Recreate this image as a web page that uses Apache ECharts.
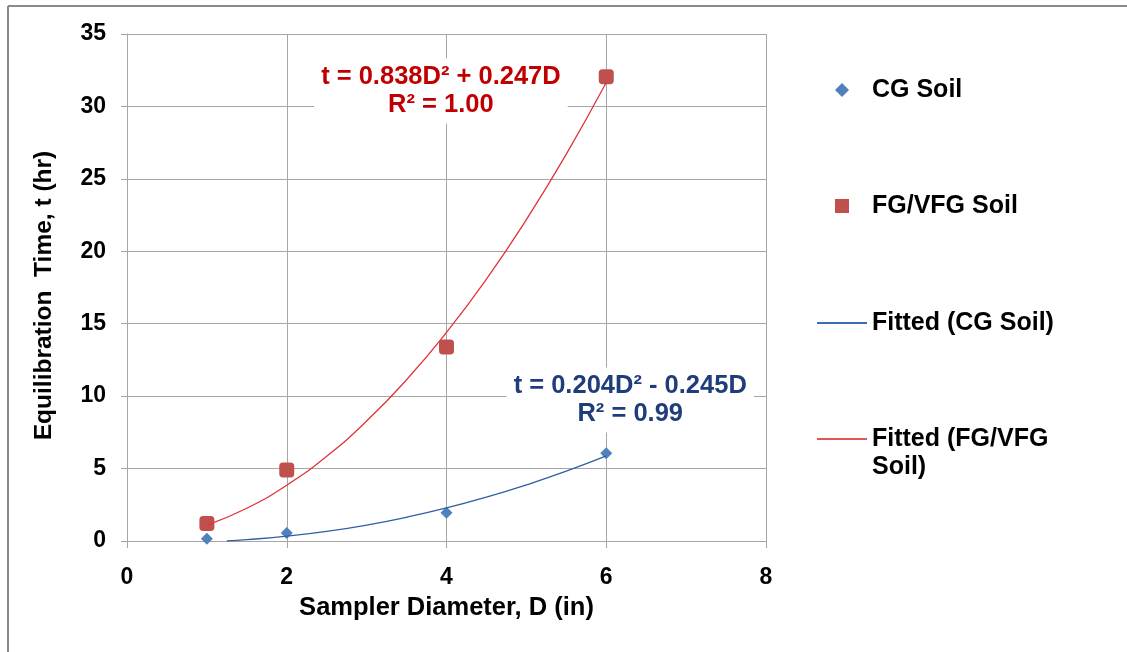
<!DOCTYPE html>
<html>
<head>
<meta charset="utf-8">
<script src="https://cdn.jsdelivr.net/npm/echarts@6/dist/echarts.min.js"></script>
<style>
html,body{margin:0;padding:0;background:#fff;}
#chart{width:1127px;height:652px;}
</style>
</head>
<body>
<div id="chart"></div>
<script>
// ---- data ----
const diameters = [1, 2, 4, 6];
const cgSoil = [0.15, 0.55, 1.95, 6.05];
const fgSoil = [1.2, 4.9, 13.4, 32.05];

// fitted curves
const fitDiamCG = [1.25, 1.5, 2, 2.5, 3, 3.5, 4, 4.5, 5, 5.5, 6];
const fitCG = [0.0, 0.09, 0.33, 0.66, 1.1, 1.64, 2.28, 3.03, 3.88, 4.82, 5.87];
const fitDiamFG = [1, 1.5, 2, 2.5, 3, 3.5, 4, 4.5, 5, 5.5, 6];
const fitFG = [1.1, 2.26, 3.85, 5.85, 8.28, 11.13, 14.4, 18.08, 22.19, 26.71, 31.65];

const xTicks = [0, 2, 4, 6, 8];
const yTicks = [0, 5, 10, 15, 20, 25, 30, 35];

const seriesNames = ['CG Soil', 'FG/VFG Soil', 'Fitted (CG Soil)', 'Fitted (FG/VFG Soil)'];
const eqFG = ['t = 0.838D² + 0.247D', 'R² = 1.00'];
const eqCG = ['t = 0.204D² - 0.245D', 'R² = 0.99'];

const FONT = "'Liberation Sans', Arial, sans-serif";
const GRID_C = '#a6a6a6';

function pairs(xs, ys) { return xs.map((x, i) => [x, ys[i]]); }

const chart = echarts.init(document.getElementById('chart'), null, {renderer: 'canvas'});

const legendText = {color: '#000', fontSize: 25, fontWeight: 'bold', fontFamily: FONT, lineHeight: 28};

chart.setOption({
  animation: false,
  backgroundColor: '#fff',
  grid: {left: 127, top: 34, right: 361, bottom: 111, containLabel: false},
  xAxis: {
    type: 'value', min: xTicks[0], max: xTicks[xTicks.length - 1], interval: 2,
    name: 'Sampler Diameter, D (in)', nameLocation: 'middle', nameGap: 54,
    nameTextStyle: {color: '#000', fontSize: 25.5, fontWeight: 'bold', fontFamily: FONT},
    axisLine: {show: true, lineStyle: {color: GRID_C, width: 1}},
    axisTick: {show: true, inside: false, length: 7, lineStyle: {color: GRID_C}},
    axisLabel: {color: '#000', fontSize: 23, fontWeight: 'bold', fontFamily: FONT, margin: 25},
    splitLine: {show: true, lineStyle: {color: GRID_C, width: 1}}
  },
  yAxis: {
    type: 'value', min: yTicks[0], max: yTicks[yTicks.length - 1], interval: 5,
    name: 'Equilibration  Time, t (hr)', nameLocation: 'middle', nameGap: 70,
    nameTextStyle: {color: '#000', fontSize: 24.5, fontWeight: 'bold', fontFamily: FONT, padding: [0, 16, 0, 0]},
    axisLine: {show: true, lineStyle: {color: GRID_C, width: 1}},
    axisTick: {show: true, inside: false, length: 6, lineStyle: {color: GRID_C}},
    axisLabel: {color: '#000', fontSize: 23, fontWeight: 'bold', fontFamily: FONT, margin: 21},
    splitLine: {show: true, lineStyle: {color: GRID_C, width: 1}}
  },
  legend: [
    {data: [{name: seriesNames[0], icon: 'diamond'}], left: 835, top: 76, padding: 0, itemWidth: 14, itemHeight: 14,
     selectedMode: false, textStyle: Object.assign({}, legendText, {padding: [0, 0, 0, 18]})},
    {data: [{name: seriesNames[1], icon: 'rect'}], left: 835, top: 192, padding: 0, itemWidth: 14, itemHeight: 14,
     selectedMode: false, textStyle: Object.assign({}, legendText, {padding: [0, 0, 0, 18]})},
    {data: [{name: seriesNames[2], icon: 'rect', itemStyle: {color: '#3f6cb0'}}], left: 817, top: 309, padding: 0,
     itemWidth: 50, itemHeight: 2, selectedMode: false, textStyle: legendText},
    {data: [{name: seriesNames[3], icon: 'rect', itemStyle: {color: '#e05555'}}], left: 817, top: 397, padding: 0,
     itemWidth: 50, itemHeight: 2, selectedMode: false,
     formatter: function () { return '\nFitted (FG/VFG\nSoil)'; },
     textStyle: legendText}
  ],
  series: [
    {
      name: seriesNames[2], type: 'line', data: pairs(fitDiamCG, fitCG), smooth: true,
      showSymbol: false, symbol: 'none', z: 3,
      lineStyle: {color: '#2f5fa5', width: 1.3}, itemStyle: {color: '#3f6cb0'}
    },
    {
      name: seriesNames[3], type: 'line', data: pairs(fitDiamFG, fitFG), smooth: true,
      showSymbol: false, symbol: 'none', z: 3,
      lineStyle: {color: '#e0333a', width: 1.3}, itemStyle: {color: '#e05555'}
    },
    {
      name: seriesNames[0], type: 'scatter', data: pairs(diameters, cgSoil),
      symbol: 'diamond', symbolSize: 12, z: 2,
      itemStyle: {color: '#4F81BD', opacity: 1}
    },
    {
      name: seriesNames[1], type: 'scatter', data: pairs(diameters, fgSoil),
      symbol: 'roundRect', symbolSize: 15, z: 2,
      itemStyle: {color: '#C0504D', opacity: 1}
    }
  ]
});

// annotation anchors (data coordinates of the equation label centres)
const eqFGAnchor = [3.93, 31.06];
const eqCGAnchor = [6.30, 9.73];

function eqGraphic(lines, anchor, color) {
  const p = chart.convertToPixel({gridIndex: 0}, anchor);
  return {
    type: 'text', x: p[0], y: p[1], z: 100,
    style: {
      text: lines.join('\n'), fill: color, fontSize: 25.5, fontWeight: 'bold', fontFamily: FONT,
      align: 'center', verticalAlign: 'middle', lineHeight: 28,
      backgroundColor: '#fff', padding: [5, 7, 4, 7]
    }
  };
}

chart.setOption({
  graphic: [
    eqGraphic(eqFG, eqFGAnchor, '#C00000'),
    eqGraphic(eqCG, eqCGAnchor, '#1F3D7A'),
    {type: 'line', z: 100, shape: {x1: 8, y1: 6, x2: 1127, y2: 6}, style: {stroke: '#8a8a8a', lineWidth: 2}},
    {type: 'line', z: 100, shape: {x1: 8, y1: 6, x2: 8, y2: 652}, style: {stroke: '#8a8a8a', lineWidth: 2}}
  ]
});
</script>
</body>
</html>
